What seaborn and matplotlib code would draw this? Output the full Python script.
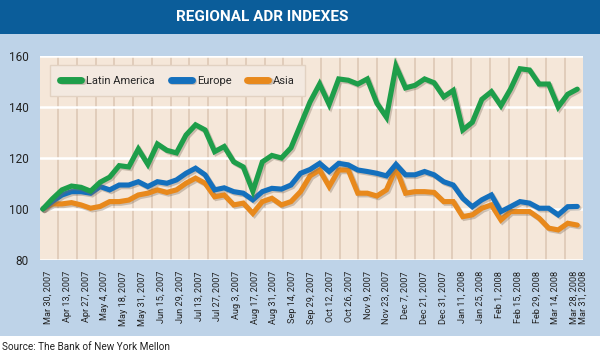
import numpy as np
import pandas as pd
import seaborn as sns
import matplotlib.pyplot as plt
from matplotlib.patches import Rectangle
from matplotlib.lines import Line2D
import matplotlib.patheffects as pe

sns.set_style("white")
plt.rcParams['font.family'] = ['Roboto', 'DejaVu Sans']

# weekly index values, Mar 30 2007 = 100
latin_america = [100, 104, 107.5, 109, 108.5, 107, 110.5, 112.5, 117, 116.5,
                 123.5, 117.5, 125.5, 123, 122, 129, 133, 131, 122.5, 124.5,
                 118.5, 116.5, 107, 118.5, 121, 120, 124, 133, 142, 149,
                 141, 151, 150.5, 149, 151, 141.5, 136, 156, 147.5, 148.5,
                 151, 149.5, 144, 146.5, 131, 134, 143, 146, 140.5, 147,
                 155, 154.5, 149, 149, 140, 145, 147]
europe = [100, 103, 105.5, 106.8, 106.8, 106.2, 108.8, 107.5, 109.4, 109.4,
          110.7, 108.8, 110.7, 110.1, 111.4, 114, 116, 113.4, 107.5, 108.3,
          106.8, 106.2, 103.6, 106.8, 108.1, 107.8, 109.4, 114, 115.5, 117.9,
          114.7, 117.9, 117.3, 115.3, 114.7, 114, 113, 117.5, 113.4, 113.4,
          114.7, 113.4, 110.7, 109.4, 104.2, 100.9, 103.6, 105.5, 99, 100.9,
          102.9, 102.3, 100.3, 100.3, 97.7, 100.9, 101]
asia = [100, 102, 102, 102.5, 101.6, 100.3, 101, 102.9, 102.9, 103.5,
        105.5, 106.2, 107.5, 106.5, 107.5, 110.1, 112.1, 110.1, 104.8, 105.5,
        101.6, 102.3, 98.3, 102.9, 104.2, 101.6, 102.9, 106.8, 113, 115.3,
        108.8, 115.3, 115.3, 106.2, 106.2, 105.1, 107.5, 116, 106.2, 106.8,
        106.8, 106.5, 102.9, 102.9, 97, 97.7, 100.3, 101.6, 95.7, 99,
        99, 99, 96.4, 92.5, 91.8, 94.4, 93.7]

tick_labels = ["Mar 30, 2007", "Apr 13, 2007", "Apr 27, 2007", "May 4, 2007",
               "May 18, 2007", "May 31, 2007", "Jun 15, 2007", "Jun 29, 2007",
               "Jul 13, 2007", "Jul 27, 2007", "Aug 3, 2007", "Aug 17, 2007",
               "Aug 31, 2007", "Sep 14, 2007", "Sep 29, 2007", "Oct 12, 2007",
               "Oct 26, 2007", "Nov 9, 2007", "Nov 23, 2007", "Dec 7, 2007",
               "Dec 21, 2007", "Dec 31, 2007", "Jan 11, 2008", "Jan 25, 2008",
               "Feb 1, 2008", "Feb 15, 2008", "Feb 29, 2008", "Mar 14, 2008",
               "Mar 28, 2008", "Mar 31, 2008"]

series = {"Latin America": latin_america, "Europe": europe, "Asia": asia}
colors = {"Latin America": "#1e9e4a", "Europe": "#1470bd", "Asia": "#e8891c"}

df = pd.concat([pd.DataFrame({"week": np.arange(len(v)), "value": v, "region": k})
                for k, v in series.items()], ignore_index=True)

fig = plt.figure(figsize=(6, 3.56), dpi=100)
fig.patch.set_facecolor("white")
H = 356.0
# banner and light blue panel
fig.add_artist(Rectangle((0, (H - 34) / H), 1, 34 / H, transform=fig.transFigure,
                         facecolor="#0b5d9a", edgecolor="none", zorder=0))
fig.add_artist(Rectangle((0, (H - 336) / H), 1, 302 / H, transform=fig.transFigure,
                         facecolor="#bed3e8", edgecolor="none", zorder=0))
fig.text(0.437, (H - 17) / H, "REGIONAL ADR INDEXES", color="white", fontsize=11,
         fontweight="bold", ha="center", va="center")
fig.text(0.004, (H - 347) / H, "Source: The Bank of New York Mellon", color="#222222",
         fontsize=7.2, ha="left", va="center")

ax = fig.add_axes([40 / 600, (H - 260) / H, 543 / 600, 204 / H])
ax.set_facecolor("#f5e7d9")

shadow = [pe.SimpleLineShadow(offset=(1.2, -1.2), shadow_color="#7a6a5a", alpha=0.35), pe.Normal()]
for region in ["Asia", "Europe", "Latin America"]:
    sns.lineplot(data=df[df.region == region], x="week", y="value", color=colors[region],
                 lw=3.7, ax=ax, legend=False, path_effects=shadow, solid_joinstyle="miter")

ax.set_xlim(-0.3, 56.6)
ax.set_ylim(80, 160)
ax.set_yticks([80, 100, 120, 140, 160])
ax.set_yticklabels(["80", "100", "120", "140", "160"])
ticks = list(np.linspace(0.6, 55.7, 29)) + [56.6]
ax.set_xticks(ticks)
ax.set_xticklabels(tick_labels, rotation=90, fontsize=6.6)
mids = [(a + b) / 2 for a, b in zip(ticks[:28], ticks[1:29])]
ax.set_xticks(mids, minor=True)
ax.tick_params(axis="x", which="major", direction="out", length=6, width=1,
               color="#333333", labelcolor="#222222", pad=2)
ax.tick_params(axis="x", which="minor", length=0)
ax.tick_params(axis="y", direction="out", length=6, width=1, color="#333333",
               labelcolor="#222222", labelsize=8.5, pad=2)
ax.xaxis.grid(True, which="minor", color="#dbc6b2", lw=1.1)
ax.yaxis.grid(True, color="white", lw=1.8)
ax.set_axisbelow(True)
ax.set_xlabel("")
ax.set_ylabel("")
for s in ax.spines.values():
    s.set_visible(False)

handles = [Line2D([], [], color=colors[k], lw=5, path_effects=shadow) for k in series]
leg = ax.legend(handles, list(series.keys()), ncol=3, loc="upper left",
                bbox_to_anchor=(0.018, 0.956), fontsize=8, frameon=True, fancybox=False,
                handlelength=1.9, handletextpad=0.45, columnspacing=1.4,
                borderpad=0.95, borderaxespad=0)
leg.get_frame().set_facecolor("#f3e9e0")
leg.get_frame().set_edgecolor("#e2d2c2")
leg.get_frame().set_alpha(1)

fig.savefig("out.png", dpi=100)
